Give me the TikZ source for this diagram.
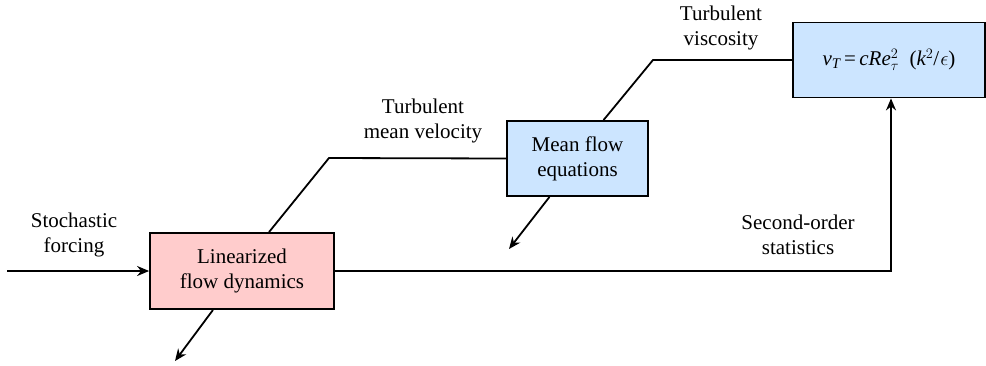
\documentclass[tikz,border=0pt]{standalone}
\usepackage{fontspec}
\setmainfont{Liberation Serif}
\usetikzlibrary{arrows.meta}
\definecolor{pinkfill}{RGB}{255,204,204}
\definecolor{bluefill}{RGB}{204,229,255}
\begin{document}
\begin{tikzpicture}[x=1pt,y=-1pt,
  every node/.style={font=\fontsize{21}{25}\selectfont},
  blk/.style={draw=black,line width=1.8pt,align=center,inner sep=0pt},
  lbl/.style={align=center,inner sep=0pt},
  conn/.style={line width=1.8pt},
  arr/.style={line width=1.8pt,-{Stealth[length=12pt,width=10pt]}}]
\useasboundingbox (0,0) rectangle (986,365);
\node[blk,fill=pinkfill,minimum width=184pt,minimum height=76pt] (lin) at (242,271) {Linearized\\flow dynamics};
\node[blk,fill=bluefill,minimum width=141pt,minimum height=75pt] (mf) at (577.5,158.5) {Mean flow\\equations};
\node[blk,fill=bluefill,minimum width=192pt,minimum height=75pt] (nu) at (889,60) {{\itshape ν}$_{\mathit{T}}$\,=\,{\itshape cRe}$^{2}_{\tau}$\enspace({\itshape k}$^{2}$/\kern1pt$\epsilon$)};
\node[lbl] (sf) at (74,235) {Stochastic\\forcing};
\node[lbl] (tmv) at (423,121) {Turbulent\\mean velocity};
\node[lbl] (tv) at (721,28) {Turbulent\\viscosity};
\node[lbl] (sos) at (798,235) {Second-order\\statistics};
\coordinate (in) at (7,271);
\coordinate (k1) at (329,158);
\coordinate (k2) at (653,60);
\coordinate (o1) at (175,361);
\coordinate (o2) at (509,249);
\draw[arr] (in) -- (lin.west);
\draw[conn] ([xshift=27pt]lin.north) -- (k1) -- (mf.west);
\draw[conn] ([xshift=26pt]mf.north) -- (k2) -- (nu.west);
\draw[arr] ([xshift=-29pt]lin.south) -- (o1);
\draw[arr] ([xshift=-28pt]mf.south) -- (o2);
\draw[arr] (lin.east) -| ([xshift=2pt]nu.south);
\end{tikzpicture}
\end{document}
